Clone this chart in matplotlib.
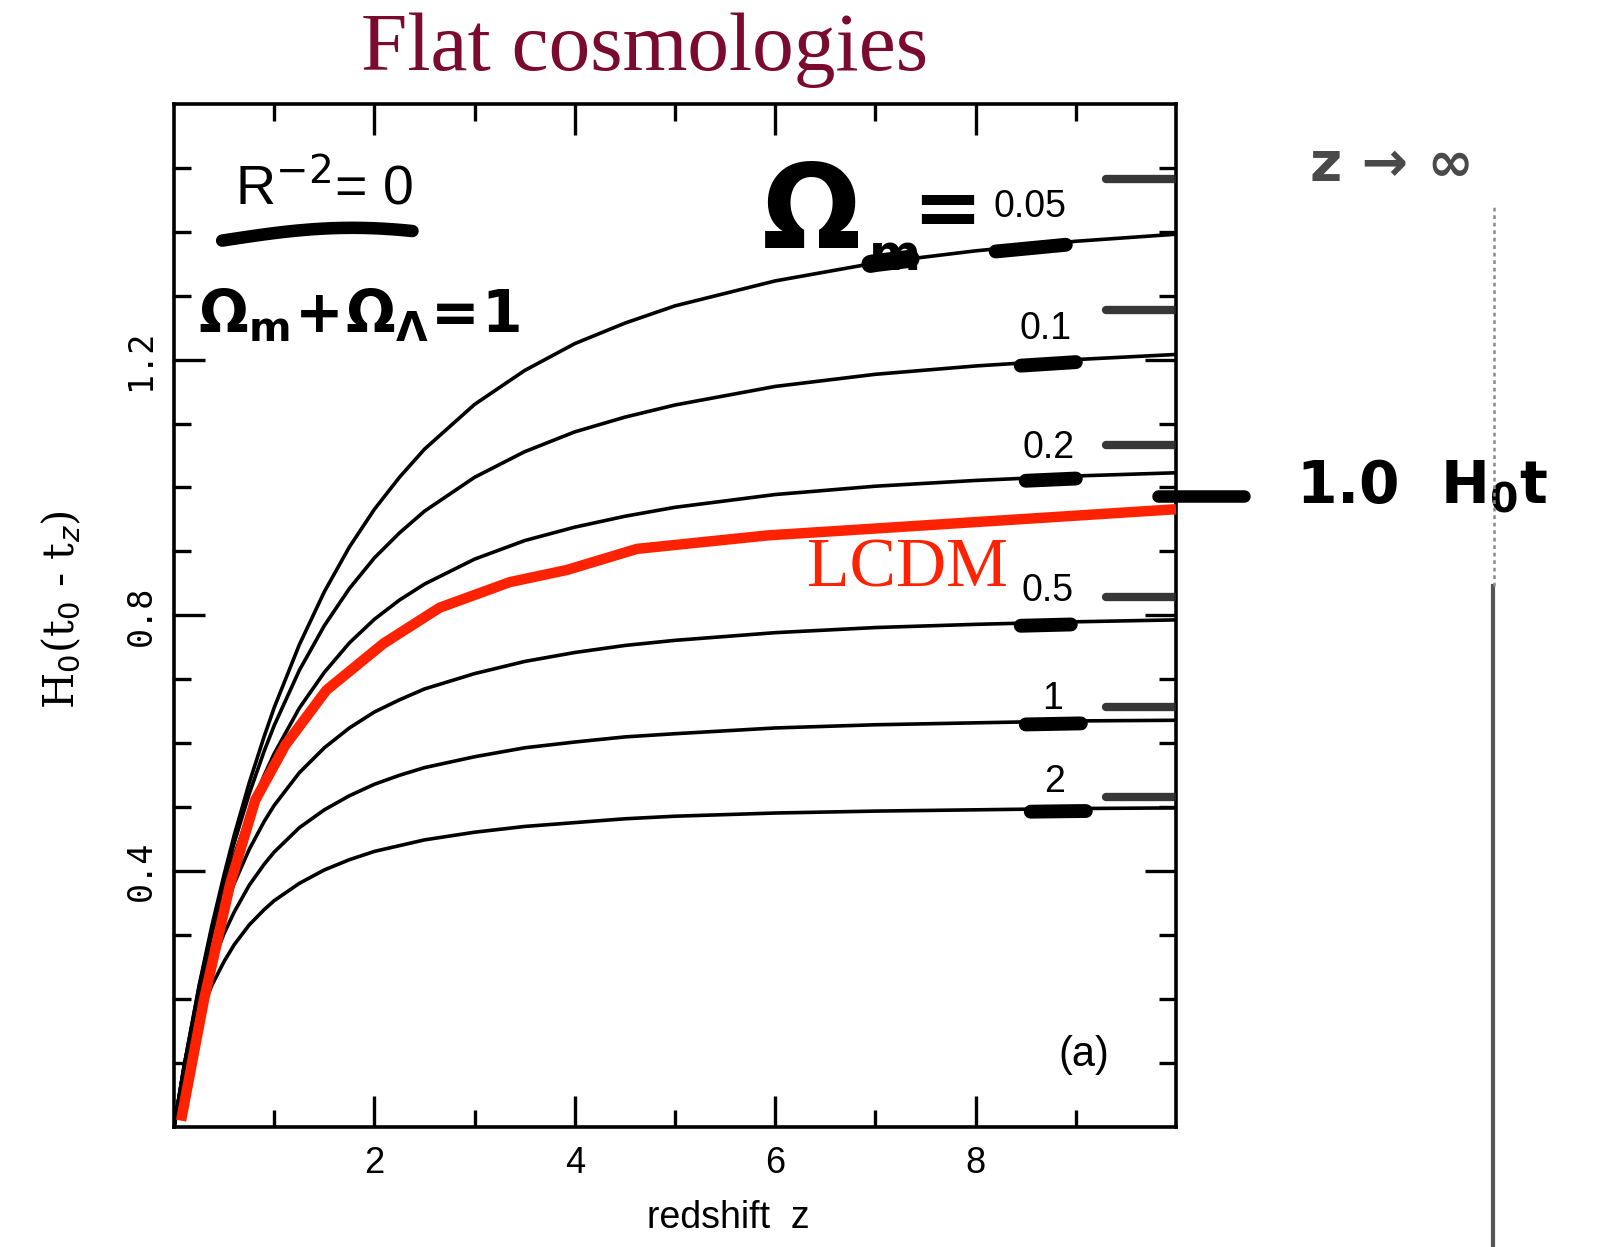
import numpy as np
import matplotlib
matplotlib.use("Agg")
import matplotlib.pyplot as plt
from matplotlib.lines import Line2D

# ---------------- data ----------------
z_grid = [0, 0.1, 0.25, 0.375, 0.5, 0.6, 0.75, 0.9, 1, 1.25, 1.5, 1.75, 2, 2.25, 2.5,
          3, 3.5, 4, 4.5, 5, 6, 7, 8, 9, 10]

omega_labels = ["0.05", "0.1", "0.2", "0.5", "1", "2"]
lookback_om005 = [0, 0.095, 0.221, 0.313, 0.395, 0.456, 0.538, 0.611, 0.656, 0.754, 0.837,
                  0.907, 0.966, 1.016, 1.060, 1.130, 1.183, 1.225, 1.257, 1.284, 1.323,
                  1.351, 1.370, 1.385, 1.396]
lookback_om01 = [0, 0.095, 0.219, 0.308, 0.387, 0.444, 0.521, 0.588, 0.628, 0.714, 0.784,
                 0.842, 0.890, 0.929, 0.963, 1.016, 1.056, 1.087, 1.110, 1.129, 1.158,
                 1.177, 1.190, 1.200, 1.208]
lookback_om02 = [0, 0.094, 0.215, 0.300, 0.372, 0.424, 0.492, 0.550, 0.584, 0.655, 0.711,
                 0.757, 0.794, 0.824, 0.849, 0.888, 0.917, 0.938, 0.955, 0.969, 0.989,
                 1.002, 1.011, 1.018, 1.023]
lookback_om05 = [0, 0.092, 0.204, 0.278, 0.339, 0.381, 0.434, 0.478, 0.503, 0.554, 0.593,
                 0.624, 0.649, 0.668, 0.685, 0.709, 0.728, 0.742, 0.753, 0.761, 0.773,
                 0.781, 0.786, 0.790, 0.793]
lookback_om1 = [0, 0.089, 0.190, 0.253, 0.303, 0.336, 0.378, 0.411, 0.430, 0.468, 0.496,
                0.518, 0.536, 0.550, 0.562, 0.579, 0.593, 0.602, 0.610, 0.615, 0.624,
                0.629, 0.632, 0.635, 0.636]
lookback_om2 = [0, 0.084, 0.170, 0.221, 0.259, 0.285, 0.316, 0.340, 0.354, 0.381, 0.402,
                0.418, 0.431, 0.440, 0.449, 0.461, 0.470, 0.476, 0.482, 0.486, 0.491,
                0.494, 0.496, 0.498, 0.499]

# z -> infinity limits (hand-drawn marks at the right edge)
asymptote_values = [1.482, 1.277, 1.067, 0.828, 0.656, 0.516]

# hand-drawn LCDM polyline
lcdm_z = [0.07, 0.30, 0.56, 0.81, 1.11, 1.52, 2.09, 2.65, 3.35, 3.92, 4.62, 5.92, 10.0]
lcdm_y = [0.01, 0.20, 0.38, 0.511, 0.597, 0.683, 0.756, 0.812, 0.852, 0.871, 0.904, 0.925, 0.966]

age_mark_value = 0.987

x_major = [2, 4, 6, 8]
x_minor = [1, 3, 5, 7, 9]
y_major = [0.4, 0.8, 1.2]
y_major_labels = ["0.4", "0.8", "1.2"]

curves = [lookback_om005, lookback_om01, lookback_om02, lookback_om05, lookback_om1, lookback_om2]

# ---------------- figure ----------------
fig = plt.figure(figsize=(16.19, 12.47), dpi=100)
fig.patch.set_facecolor("white")
ax = fig.add_axes([0.1075, 0.0962, 0.6189, 0.8206])
ax.set_xlim(0, 10)
ax.set_ylim(0, 1.6)

for vals in curves:
    ax.plot(z_grid, vals, color="black", lw=2.6, solid_capstyle="round",
            solid_joinstyle="round", zorder=3)

# thick hand-drawn highlights on each curve
highlight_ranges = [(8.2, 8.9), (8.45, 9.0), (8.5, 9.0), (8.45, 8.95), (8.5, 9.05), (8.55, 9.1)]
for vals, (z0, z1) in zip(curves, highlight_ranges):
    zz = np.linspace(z0, z1, 12)
    yy = np.interp(zz, z_grid, vals)
    ax.plot(zz, yy - 0.004, color="black", lw=10, solid_capstyle="round", zorder=4)
# blob under the handwritten subscript on the 0.05 curve
zz = np.linspace(6.95, 7.35, 8)
ax.plot(zz, np.interp(zz, z_grid, lookback_om005), color="black", lw=13,
        solid_capstyle="round", zorder=4)

# z -> infinity marks
for v in asymptote_values:
    ax.plot([9.3, 9.98], [v, v], color="#262626", lw=6, solid_capstyle="round",
            alpha=0.92, zorder=4)

# LCDM red line
ax.plot(lcdm_z, lcdm_y, color="#ff2200", lw=7.5, solid_capstyle="butt",
        solid_joinstyle="miter", zorder=6)

# 1.0 H0 t mark
ax.plot([9.82, 10.68], [age_mark_value, age_mark_value], color="black", lw=9,
        solid_capstyle="round", clip_on=False, zorder=7)

# ticks / spines
ax.set_xticks(x_major)
ax.set_xticks(x_minor, minor=True)
ax.set_yticks(y_major)
ax.set_yticks(np.round(np.arange(0.1, 1.6, 0.1), 2), minor=True)
ax.tick_params(which="both", direction="in", top=True, right=True, width=2.4, color="black")
ax.tick_params(which="major", length=22)
ax.tick_params(which="minor", length=12)
ax.tick_params(axis="x", which="major", pad=14, labelsize=26)
ax.set_xticklabels([str(v) for v in x_major], fontfamily="Liberation Sans")
ax.set_yticklabels(y_major_labels, rotation=90, va="center", fontfamily="DejaVu Sans Mono",
                   fontsize=24)
ax.tick_params(axis="y", which="major", pad=12)
for s in ax.spines.values():
    s.set_linewidth(2.6)

# axis labels
ax.text(-0.112, 0.506, r"H$_0$(t$_0$ - t$_z$)", transform=ax.transAxes, rotation=90,
        ha="center", va="center", fontsize=30, fontfamily="DejaVu Serif")
ax.text(0.553, -0.089, "redshift  z", transform=ax.transAxes, ha="center", va="center",
        fontsize=27, fontfamily="Liberation Sans")

# curve labels
label_pos = [(8.54, 1.439), (8.70, 1.248), (8.73, 1.0625), (8.72, 0.8375), (8.77, 0.669), (8.79, 0.539)]
for lab, (zx, yy) in zip(omega_labels, label_pos):
    ax.text(zx, yy, lab, ha="center", va="center", fontsize=27,
            fontfamily="Liberation Sans", zorder=8)

# (a)
ax.text(9.08, 0.1125, "(a)", ha="center", va="center", fontsize=30, fontfamily="Liberation Sans")

# handwritten annotations
ax.text(1.50, 1.467, r"R$^{-2}$= 0", ha="center", va="center", fontsize=40,
        fontfamily="Liberation Sans")
uz = np.linspace(0.48, 2.38, 20)
ax.plot(uz, [1.386 + 0.02 * np.sin(np.pi * (u - 0.48) / 2.6) for u in uz], color="black",
        lw=9, solid_capstyle="round", clip_on=False)
ax.text(1.84, 1.269, r"$\mathbf{\Omega_m\!+\!\Omega_\Lambda\!=\!1}$", ha="center", va="center",
        fontsize=42)
ax.text(6.35, 1.425, r"$\mathbf{\Omega}$", ha="center", va="center", fontsize=84)
ax.text(7.18, 1.362, r"$\mathbf{m}$", ha="center", va="center", fontsize=36)
ax.text(7.72, 1.43, "=", ha="center", va="center", fontsize=60, fontweight="bold")

# LCDM label
ax.text(7.32, 0.872, "LCDM", ha="center", va="center", fontsize=50, color="#ff2200",
        fontfamily="Liberation Serif", zorder=8)

# right-hand annotations
ax.text(12.15, 1.503, "z → ∞", ha="center", va="center", fontsize=40, color="#4a4a4a",
        fontweight="bold", clip_on=False)
ax.text(12.45, 1.003, r"1.0  H$_{\mathbf{0}}$t", ha="center", va="center", fontsize=42,
        fontweight="bold", clip_on=False)

# title
fig.text(0.398, 0.960, "Flat cosmologies", ha="center", va="center", fontsize=60,
         color="#7a0a2e", fontfamily="Liberation Serif")

# scanned page edge
fig.add_artist(Line2D([0.9222, 0.9222], [0.0, 0.53], transform=fig.transFigure,
                      color="#555555", lw=3.0))
fig.add_artist(Line2D([0.9225, 0.9225], [0.53, 0.835], transform=fig.transFigure,
                      color="#8a8a8a", lw=1.8, ls=(0, (1.5, 1.5))))

fig.savefig("out.png", dpi=100, facecolor="white")
